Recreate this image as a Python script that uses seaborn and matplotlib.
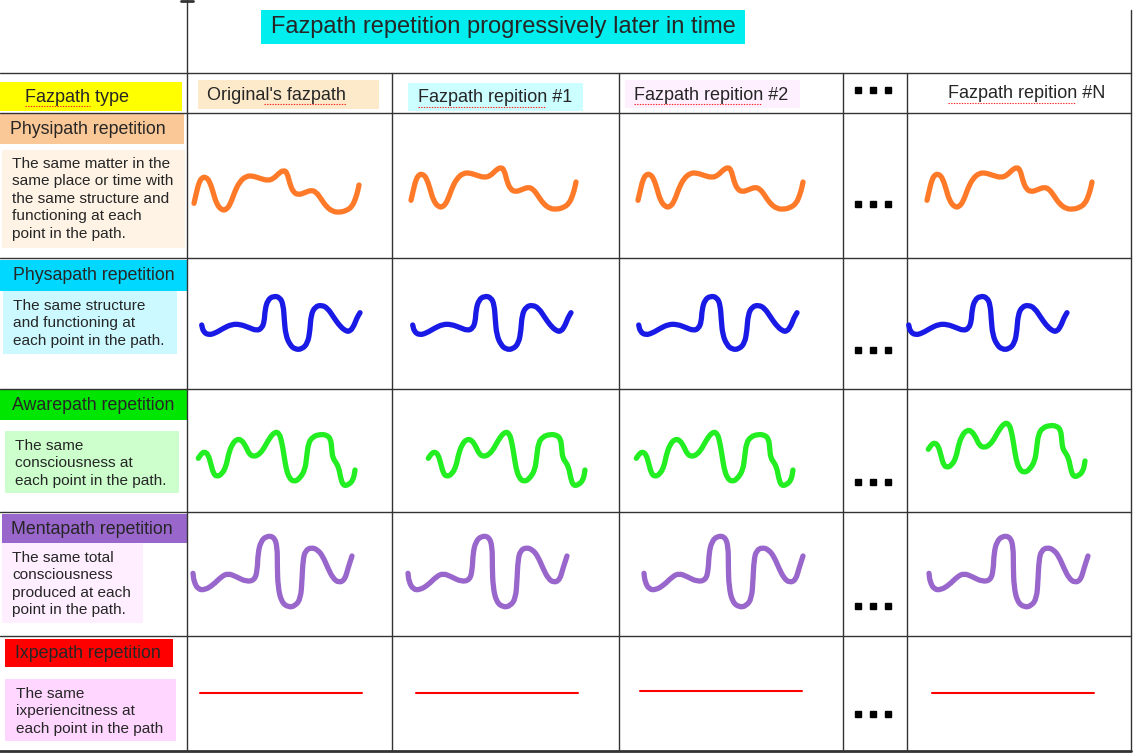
import matplotlib
matplotlib.use("Agg")
import matplotlib.pyplot as plt
from matplotlib.patches import Rectangle, PathPatch
from matplotlib.path import Path
import seaborn as sns

# ---- texts ----
title = "Fazpath repetition progressively later in time"
col_headers = ["Original's fazpath", "Fazpath repition #1", "Fazpath repition #2", "Fazpath repition #N"]
row_labels = ["Physipath repetition", "Physapath repetition", "Awarepath repetition",
              "Mentapath repetition", "Ixpepath repetition"]
row_descs = [
    ["The same matter in the", "same place or time with", "the same structure and",
     "functioning at each", "point in the path."],
    ["The same structure", "and functioning at", "each point in the path."],
    ["The same", "consciousness at", "each point in the path."],
    ["The same total", "consciousness", "produced at each", "point in the path."],
    ["The same", "ixperiencitness at", "each point in the path"],
]

# ---- hand drawn path shapes (as drawn in the first column, pixel units) ----
orange_x = [194, 196.3, 198.7, 202, 206.3, 209.7, 213, 216.3, 221.3, 226.3, 230.7, 234.7, 239.7,
            246.3, 253, 259.7, 268, 274, 278.7, 284, 287.3, 289.7, 293, 298, 304.7, 311.3, 316.3,
            320.7, 326.3, 333, 339.7, 346.3, 352, 355.7, 358, 359]
orange_y = [203.3, 193.3, 183.3, 177.3, 177.3, 181.7, 191.7, 203.3, 210, 210, 203.3, 191.7, 181.7,
            176, 176, 178.3, 180.7, 178.3, 173.3, 170, 173.3, 183.3, 191.7, 195, 192.7, 190, 192.3,
            198.3, 206.7, 211.7, 212.3, 210.7, 206.7, 198.3, 190, 185]

blue_x = [201.7, 203.3, 208.3, 215, 223.3, 231.7, 240, 248.3, 256.7, 261.7, 264.3, 265, 267.7,
          273.3, 280, 283.3, 284.3, 285.7, 290, 295, 301.7, 307.7, 310, 311, 315, 321.7, 327.7,
          333.3, 339, 345, 350, 354.3, 356.7, 360]
blue_y = [325, 331.7, 335, 333.3, 328.3, 324.3, 324.3, 327.3, 330.7, 328.3, 321.7, 310, 300,
          296, 297.3, 305, 320, 335, 345, 349.3, 349.3, 343.3, 330, 315, 306.7, 305, 308.3,
          316.7, 325, 330.7, 331.7, 325, 318.3, 312.7]

green_x = [198.3, 201.7, 205, 208.3, 210.7, 213.3, 216.7, 221.7, 226, 228.3, 231.7, 236.7, 241.7,
           246, 249.3, 254, 259.3, 264, 269.3, 275, 279.3, 281.7, 284, 286, 289.3, 294, 299.3,
           305, 306.7, 308.3, 312.7, 320, 326.7, 330.7, 331.7, 332.7, 336.7, 339.3, 340.7, 343.3,
           348.3, 353.3, 355]
green_y = [458.3, 453.3, 451.7, 455, 463.3, 473.3, 476.7, 474.3, 466.7, 455, 445, 439, 440,
           446.7, 454.3, 456.7, 454.3, 448.3, 438.3, 431.7, 433.3, 441.7, 455, 468.3, 478.3, 481.7,
           479, 470, 456.7, 443.3, 436.7, 434.3, 435, 439, 448.3, 458.3, 463.3, 470, 478.3, 485.7,
           485, 480, 470]

purple_x = [193, 194, 198, 204.7, 213, 221.3, 228, 236.3, 246.3, 254.7, 257.3, 258, 260.7, 266.3,
            274, 277.3, 277.3, 278, 281.3, 288, 295.3, 300.7, 302, 303, 305.3, 311.3, 318, 323,
            328, 333, 338.7, 344.7, 348, 352]
purple_y = [573.3, 581.7, 589.3, 590, 585, 576.7, 573.3, 576.7, 581.7, 580, 570, 553.3, 541.7, 536,
            536.7, 546.7, 566.7, 586.7, 601.7, 607.3, 606, 598.3, 580, 560, 550.7, 547.3, 550, 556.7,
            568.3, 578.3, 582.7, 580, 568.3, 556]

red_x = [200, 362]
red_y = [693, 693]

# copies of each path in the four time columns
orange_dx = [0, 217, 444, 733]
orange_dy = [0, -3, -3, -3]
blue_dx = [0, 211, 437, 707]
blue_dy = [0, 0, 0, 0]
green_dx = [0, 230, 438, 730]
green_dy = [0, 0, 0, -9]
purple_dx = [0, 215, 451, 736]
purple_dy = [0, 0, 0, 0]
red_dx = [0, 216, 440, 732]
red_dy = [0, 0, -2, 0]

# ---- styles / layout (pixels) ----
W, H = 1136, 756
row_label_colors = ["#FAC796", "#00D8FF", "#00E600", "#9966CC", "#FF0000"]
row_desc_colors = ["#FEF3E4", "#CCF9FF", "#CCFFCC", "#FFEEFF", "#FFD6FF"]
row_label_boxes = [(0, 114, 184, 30), (0, 260, 188, 31), (0, 390, 188, 30), (2, 514, 186, 29), (5, 639, 168, 28)]
row_desc_boxes = [(2, 150, 183, 98), (3, 291, 174, 63), (5, 431, 174, 62), (2, 543, 141, 80), (5, 679, 171, 62)]
row_desc_text = [(12, 164), (13, 306), (15, 446), (12, 558), (16, 694)]
row_label_text = [(10, 129), (13, 276), (12, 405), (11, 529), (15, 653)]
dots_y = [204, 350, 482, 606, 714]

sns.set_theme(style="white")
plt.rcParams["font.family"] = ["Liberation Sans", "DejaVu Sans"]

fig = plt.figure(figsize=(W / 100, H / 100), dpi=100)
ax = fig.add_axes([0, 0, 1, 1])
ax.set_xlim(0, W)
ax.set_ylim(H, 0)
ax.axis("off")


def box(x, y, w, h, color):
    ax.add_patch(Rectangle((x, y), w, h, facecolor=color, edgecolor="none", zorder=1))


def smooth_stroke(xs, ys, color, width):
    # quadratic bezier through the midpoints, the read points act as control points
    pts = list(zip(xs, ys))
    verts = [pts[0]]
    codes = [Path.MOVETO]
    mid = lambda a, b: ((a[0] + b[0]) / 2, (a[1] + b[1]) / 2)
    verts.append(mid(pts[0], pts[1]))
    codes.append(Path.LINETO)
    for i in range(1, len(pts) - 1):
        verts += [pts[i], mid(pts[i], pts[i + 1])]
        codes += [Path.CURVE3, Path.CURVE3]
    verts.append(pts[-1])
    codes.append(Path.LINETO)
    ax.add_patch(PathPatch(Path(verts, codes), fill=False, edgecolor=color, lw=width,
                           capstyle="round", joinstyle="round", zorder=5))


# grid lines
lc, lw = "#333333", 1.0
for y in [73, 113, 258, 389, 512, 636]:
    ax.plot([0, 1131], [y, y], color=lc, lw=lw, zorder=3)
ax.plot([0, 1131], [751, 751], color=lc, lw=2.0, zorder=3)
ax.plot([187, 187], [0, 751], color=lc, lw=lw, zorder=3)
ax.plot([181, 193], [1, 1], color=lc, lw=2.0, zorder=3)
for x in [392, 619, 843, 907]:
    ax.plot([x, x], [73, 751], color=lc, lw=lw, zorder=3)
ax.plot([1131, 1131], [10, 751], color=lc, lw=lw, zorder=3)

# title
box(261, 10, 484, 34, "#00EEEE")
ax.text(503, 27, title, fontsize=17, ha="center", va="center", zorder=4)

# header row
box(0, 82, 182, 29, "#FFFF00")
ax.text(25, 97, "Fazpath type", fontsize=13, va="center", zorder=4)
header_boxes = [(198, 80, 181, 29, "#FDEACB"), (408, 83, 175, 28, "#CCFFFF"), (625, 80, 175, 28, "#FFF0FF")]
for bx in header_boxes:
    box(*bx)
header_pos = [(207, 95), (418, 98), (634, 95), (948, 94)]
for (tx, ty), lab in zip(header_pos, col_headers):
    ax.text(tx, ty, lab, fontsize=13, va="center", zorder=4)

# spell-check style red underline under the made-up words
squiggles = [(25, 90, 106), (264, 346, 104), (418, 545, 107),
             (634, 761, 104), (948, 1075, 103)]
for x0, x1, y in squiggles:
    ax.plot([x0, x1], [y, y], color="#FF2020", lw=0.8, ls=(0, (1.2, 1.2)), zorder=4)

# dots column
for y in [90] + dots_y:
    ax.plot([858, 873, 888], [y, y, y], ls="none", marker="s", ms=3.8, color="black", zorder=4)

# left column
for i in range(5):
    box(*row_label_boxes[i], row_label_colors[i])
    box(*row_desc_boxes[i], row_desc_colors[i])
    lx, ly = row_label_text[i]
    ax.text(lx, ly, row_labels[i], fontsize=12.8, va="center", zorder=4)
    dx0, dy0 = row_desc_text[i]
    for j, line in enumerate(row_descs[i]):
        ax.text(dx0, dy0 + j * 17.4, line, fontsize=11.1, va="center", zorder=4)

# wavy paths in each time column
paths = [
    (orange_x, orange_y, orange_dx, orange_dy, "#FF7A28"),
    (blue_x, blue_y, blue_dx, blue_dy, "#1A1AE6"),
    (green_x, green_y, green_dx, green_dy, "#22EE22"),
    (purple_x, purple_y, purple_dx, purple_dy, "#9966CC"),
]
for px, py, ddx, ddy, color in paths:
    for sx, sy in zip(ddx, ddy):
        smooth_stroke([v + sx for v in px], [v + sy for v in py], color, 3.8)

# flat red path
for sx, sy in zip(red_dx, red_dy):
    sns.lineplot(x=[v + sx for v in red_x], y=[v + sy for v in red_y], sort=False, estimator=None,
                 color="#FF0000", lw=1.5, ax=ax, legend=False, zorder=5)

ax.set_xlim(0, W)
ax.set_ylim(H, 0)
ax.axis("off")
fig.savefig("out.png", dpi=100)
